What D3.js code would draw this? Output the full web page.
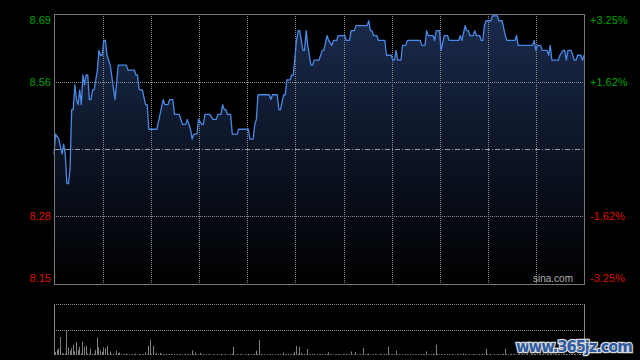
<!DOCTYPE html>
<html>
<head>
<meta charset="utf-8">
<script src="https://cdn.jsdelivr.net/npm/d3@7"></script>
<style>
  html, body { margin: 0; padding: 0; background: #000; }
  svg { display: block; }
</style>
</head>
<body>
<script>
+function(d3) {

  // previous close, the middle of the price axis
  const preClose = 8.42;
  const pctTicks = [3.25, 1.62, -1.62, -3.25];
  const priceLabels = ['8.69', '8.56', '8.28', '8.15'];
  const pctLabels = ['+3.25%', '+1.62%', '-1.62%', '-3.25%'];
  const gridMinutes = [30, 60, 90, 120, 150, 180, 210, 240, 270, 300];
  const sessionMinutes = 330;

  // [minute of session, price]
  const pricePoints = [
    [0, 8.41], [1, 8.45], [3, 8.44], [5, 8.41], [6, 8.43], [7, 8.41], [8, 8.35], [9, 8.35],
    [10, 8.38], [11, 8.50], [12, 8.50], [13, 8.55], [14, 8.52], [15, 8.51], [16, 8.54],
    [17, 8.51], [18, 8.57], [19, 8.55], [20, 8.57], [21, 8.57], [22, 8.52], [23, 8.52],
    [24, 8.54], [25, 8.54], [27, 8.58], [28, 8.62], [29, 8.61], [30, 8.61], [31, 8.64],
    [32, 8.64], [33, 8.61], [35, 8.59], [38, 8.52], [40, 8.59], [45, 8.59], [46, 8.58],
    [50, 8.58], [51, 8.57], [52, 8.57], [53, 8.54], [55, 8.54], [57, 8.51], [58, 8.51],
    [59, 8.46], [64, 8.46], [66, 8.49], [68, 8.52], [69, 8.51], [71, 8.51], [72, 8.52],
    [74, 8.52], [75, 8.49], [78, 8.49], [80, 8.47], [82, 8.47], [83, 8.48], [85, 8.46],
    [86, 8.44], [87, 8.45], [89, 8.45], [90, 8.48], [92, 8.47], [93, 8.47], [94, 8.49],
    [97, 8.49], [99, 8.48], [101, 8.48], [102, 8.49], [104, 8.49], [105, 8.51], [106, 8.50],
    [107, 8.50], [108, 8.49], [110, 8.49], [111, 8.45], [114, 8.45], [115, 8.46], [121, 8.46],
    [122, 8.44], [124, 8.44], [125, 8.47], [126, 8.48], [127, 8.53], [134, 8.53], [135, 8.52],
    [136, 8.53], [139, 8.53], [140, 8.50], [141, 8.50], [143, 8.53], [144, 8.53], [145, 8.56],
    [147, 8.56], [148, 8.57], [149, 8.57], [151, 8.64], [152, 8.66], [153, 8.66], [155, 8.62],
    [156, 8.62], [157, 8.66], [158, 8.63], [160, 8.59], [161, 8.59], [162, 8.60], [165, 8.60],
    [167, 8.62], [168, 8.62], [170, 8.65], [171, 8.64], [173, 8.63], [174, 8.64], [176, 8.64],
    [177, 8.65], [181, 8.65], [182, 8.64], [184, 8.64], [185, 8.66], [187, 8.66], [188, 8.67],
    [195, 8.67], [196, 8.68], [197, 8.66], [198, 8.66], [199, 8.65], [201, 8.65], [202, 8.64],
    [206, 8.64], [207, 8.61], [210, 8.61], [211, 8.60], [212, 8.60], [213, 8.62], [214, 8.60],
    [216, 8.60], [217, 8.63], [219, 8.63], [220, 8.64], [228, 8.64], [229, 8.63], [231, 8.63],
    [232, 8.66], [233, 8.65], [236, 8.65], [237, 8.64], [238, 8.66], [240, 8.66], [241, 8.62],
    [243, 8.65], [245, 8.65], [246, 8.64], [252, 8.64], [253, 8.65], [254, 8.64], [256, 8.67],
    [257, 8.66], [258, 8.66], [259, 8.65], [261, 8.65], [262, 8.66], [263, 8.65], [265, 8.65],
    [266, 8.64], [267, 8.64], [268, 8.67], [269, 8.68], [272, 8.68], [273, 8.69], [276, 8.69],
    [277, 8.68], [279, 8.68], [281, 8.65], [282, 8.64], [287, 8.64], [288, 8.65], [289, 8.63],
    [298, 8.63], [299, 8.64], [300, 8.62], [301, 8.63], [303, 8.63], [304, 8.62], [307, 8.62],
    [308, 8.61], [309, 8.63], [310, 8.60], [314, 8.60], [315, 8.61], [317, 8.62], [318, 8.62],
    [319, 8.60], [320, 8.62], [322, 8.62], [324, 8.60], [325, 8.60], [326, 8.61], [328, 8.61],
    [329, 8.60], [330, 8.61]
  ];

  // volume per minute (thousand shares)
  const volumes = [
    176, 30, 50, 67, 180, 20, 12, 15, 250, 77, 43, 67, 103, 37, 126, 50, 83, 20, 133, 83, 93, 12, 15, 63, 10, 14, 50, 176, 77, 43,
    30, 77, 67, 93, 12, 33, 8, 10, 6, 43, 20, 26, 8, 5, 10, 13, 6, 8, 4, 10, 7, 12, 5, 8, 10, 6, 9, 26, 8, 93,
    150, 10, 93, 8, 20, 6, 20, 8, 10, 5, 13, 7, 9, 13, 6, 10, 5, 8, 6, 10, 4, 7, 9, 5, 12, 8, 46, 10, 26, 7,
    8, 20, 6, 9, 5, 8, 6, 10, 4, 7, 8, 5, 9, 6, 10, 7, 5, 8, 6, 4, 9, 12, 83, 6, 8, 5, 7, 9, 4, 6,
    8, 10, 6, 9, 7, 12, 43, 10, 150, 8, 6, 9, 5, 7, 10, 6, 8, 5, 7, 9, 6, 8, 5, 26, 7, 9, 13, 6, 8, 10,
    33, 90, 12, 83, 20, 8, 10, 6, 60, 9, 7, 12, 8, 5, 9, 6, 10, 7, 5, 8, 9, 26, 6, 8, 5, 7, 9, 6, 10, 5,
    8, 6, 9, 7, 10, 36, 6, 8, 30, 7, 5, 9, 6, 70, 8, 10, 15, 6, 8, 5, 9, 7, 6, 13, 8, 5, 10, 12, 83, 7,
    6, 9, 8, 43, 6, 10, 5, 8, 7, 6, 9, 5, 8, 10, 6, 7, 5, 9, 8, 6, 10, 7, 36, 8, 6, 9, 12, 8, 103, 10,
    7, 9, 6, 8, 5, 10, 7, 6, 9, 8, 5, 7, 10, 6, 9, 15, 7, 8, 5, 9, 6, 10, 8, 7, 5, 9, 6, 12, 8, 60,
    9, 7, 10, 6, 8, 5, 9, 7, 10, 8, 12, 60, 9, 6, 8, 10, 7, 9, 5, 8, 10, 6, 9, 7, 8, 10, 6, 9, 12, 8,
    10, 7, 9, 12, 8, 10, 6, 9, 11, 8, 12, 7, 10, 9, 8, 11, 6, 10, 12, 9, 8, 10, 7, 11, 9, 12, 8, 10, 9, 11, 14
  ];
  const volMax = 500;

  const width = 640;
  const height = 360;
  const left = 54;
  const right = 584;
  const top = 14;
  const bottom = 284;
  const volTop = 305;
  const volBottom = 355;
  const font = '"Liberation Sans", Arial, sans-serif';
  const up = '#00a000';
  const down = '#dd1100';

  const x = d3.scaleLinear().domain([0, sessionMinutes]).range([left, right]);
  const y = d3.scaleLinear()
    .domain([preClose * (1 - 0.0325), preClose * (1 + 0.0325)])
    .range([bottom, top]);
  const pctY = p => y(preClose * (1 + p / 100));
  const vy = d3.scaleLinear().domain([0, volMax]).range([volBottom, volTop]);
  const crisp = v => Math.round(v) + 0.5;
  const gridX = m => Math.floor(x(m) + 1) + 0.5;

  const svg = d3.select('body')
    .append('svg')
    .attr('width', width)
    .attr('height', height)
    .style('background', '#000');

  const grad = svg.append('defs')
    .append('linearGradient')
    .attr('id', 'fillGrad')
    .attr('gradientUnits', 'userSpaceOnUse')
    .attr('x1', 0).attr('y1', top)
    .attr('x2', 0).attr('y2', bottom);
  grad.append('stop').attr('offset', 0).attr('stop-color', '#1a2b4d');
  grad.append('stop').attr('offset', 1).attr('stop-color', '#000000');

  // price area + line
  const area = d3.area()
    .x(d => x(d[0]))
    .y0(bottom)
    .y1(d => y(d[1]));
  const line = d3.line()
    .x(d => x(d[0]))
    .y(d => y(d[1]));

  svg.append('path')
    .datum(pricePoints)
    .attr('d', area)
    .attr('fill', 'url(#fillGrad)');

  // grid
  svg.selectAll('.vgrid')
    .data(gridMinutes)
    .enter()
    .append('line')
    .attr('x1', gridX).attr('x2', gridX)
    .attr('y1', top).attr('y2', bottom)
    .attr('stroke', '#8a8a8a')
    .attr('stroke-dasharray', '1,1');

  svg.selectAll('.hgrid')
    .data(pctTicks.filter(p => Math.abs(p) < 3))
    .enter()
    .append('line')
    .attr('x1', left).attr('x2', right)
    .attr('y1', d => crisp(pctY(d))).attr('y2', d => crisp(pctY(d)))
    .attr('stroke', '#8a8a8a')
    .attr('stroke-dasharray', '1,1');

  svg.append('line')
    .attr('x1', left + 1).attr('x2', right)
    .attr('y1', crisp(y(preClose))).attr('y2', crisp(y(preClose)))
    .attr('stroke', '#9a9a9a')
    .attr('stroke-dasharray', '5,2,1,2');

  svg.append('path')
    .datum(pricePoints)
    .attr('d', line)
    .attr('fill', 'none')
    .attr('stroke', '#4a88e6')
    .attr('stroke-width', 1.3)
    .attr('stroke-linejoin', 'round');

  svg.append('rect')
    .attr('x', left + 0.5).attr('y', top + 0.5)
    .attr('width', right - left).attr('height', bottom - top)
    .attr('fill', 'none')
    .attr('stroke', '#777');

  // axis labels
  const clampY = v => Math.max(top + 6, Math.min(bottom - 6, v));

  svg.selectAll('.plabel')
    .data(pctTicks)
    .enter()
    .append('text')
    .attr('x', left - 3)
    .attr('y', d => clampY(pctY(d)))
    .attr('dy', '0.36em')
    .attr('text-anchor', 'end')
    .attr('font-family', font)
    .attr('font-size', 11)
    .attr('fill', d => d > 0 ? up : down)
    .text((d, i) => priceLabels[i]);

  svg.selectAll('.pctlabel')
    .data(pctTicks)
    .enter()
    .append('text')
    .attr('x', right + 6)
    .attr('y', d => clampY(pctY(d)))
    .attr('dy', '0.36em')
    .attr('font-family', font)
    .attr('font-size', 11)
    .attr('fill', d => d > 0 ? up : down)
    .text((d, i) => pctLabels[i]);

  svg.append('text')
    .attr('x', right - 11)
    .attr('y', bottom - 6)
    .attr('dy', '0.36em')
    .attr('text-anchor', 'end')
    .attr('font-family', font)
    .attr('font-size', 10)
    .attr('fill', '#b0b0b0')
    .text('sina.com');

  // volume panel
  svg.selectAll('.vline')
    .data([volTop - 0.5, (volTop + volBottom) / 2])
    .enter()
    .append('line')
    .attr('x1', left).attr('x2', right)
    .attr('y1', d => Math.floor(d) + 0.5).attr('y2', d => Math.floor(d) + 0.5)
    .attr('stroke', '#8a8a8a')
    .attr('stroke-dasharray', '1,1');

  svg.selectAll('.vborder')
    .data([left, right])
    .enter()
    .append('line')
    .attr('x1', d => d + 0.5).attr('x2', d => d + 0.5)
    .attr('y1', volTop - 1).attr('y2', volBottom)
    .attr('stroke', '#888');

  svg.selectAll('.vbar')
    .data(volumes)
    .enter()
    .append('rect')
    .attr('x', (d, i) => Math.floor(x(i)))
    .attr('y', d => vy(d))
    .attr('width', 1)
    .attr('height', d => volBottom - vy(d))
    .attr('fill', '#808080');

  // site watermark
  svg.append('text')
    .attr('x', 516)
    .attr('y', 352)
    .attr('textLength', 117)
    .attr('font-family', '"DejaVu Sans", sans-serif')
    .attr('font-weight', 'bold')
    .attr('font-size', 15)
    .attr('fill', '#2d5aa0')
    .attr('stroke', '#d8d8d8')
    .attr('stroke-width', 2.5)
    .attr('paint-order', 'stroke')
    .text('www.365jz.com');

}(d3);
</script>
</body>
</html>
